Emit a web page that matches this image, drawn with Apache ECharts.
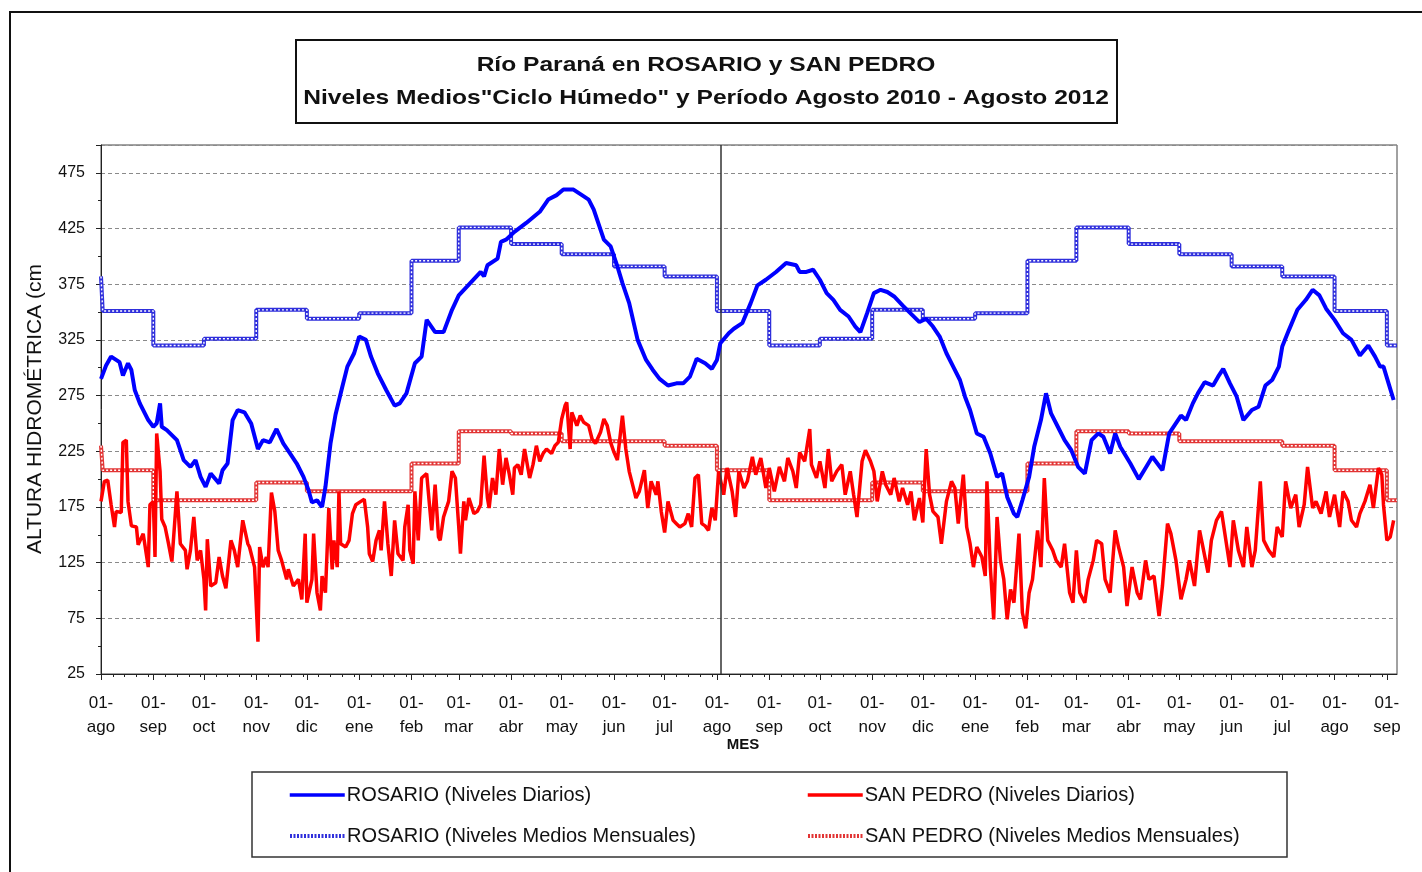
<!DOCTYPE html>
<html>
<head>
<meta charset="utf-8">
<script src="https://cdn.jsdelivr.net/npm/echarts@6/dist/echarts.min.js"></script>
<style>
html,body{margin:0;padding:0;background:#fff;}
#chart{width:1422px;height:872px;}
</style>
</head>
<body>
<div id="chart"></div>
<script>
// ---------- DATA ----------
// x values are days counted from 01-ago-2010
const monthLabels = ['ago','sep','oct','nov','dic','ene','feb','mar','abr','may','jun','jul',
                     'ago','sep','oct','nov','dic','ene','feb','mar','abr','may','jun','jul','ago','sep'];
const yTicks = [25, 75, 125, 175, 225, 275, 325, 375, 425, 475];

// Monthly mean levels ("Ciclo Húmedo"), months ago..jul
const rosarioMonthly  = [351, 320, 326, 352, 344, 349, 396, 426, 411, 402, 391, 382];
const sanPedroMonthly = [208, 181, 181, 197, 189, 189, 214, 243, 241, 234, 234, 230];

// Daily levels [day, cm]
const rosarioDaily = [[0,290],[3,302],[6,310],[11,305],[13,293],[16,304],[18,298],[20,280],[23,268],[28,253],[31,247],[33,250],[35,268],[36,247],[39,244],[45,235],[49,217],[53,211],[56,217],[59,202],[62,193],[65,205],[70,196],[72,208],[75,214],[78,253],[81,262],[85,260],[89,250],[93,227],[96,235],[100,233],[104,245],[108,232],[112,223],[116,214],[120,202],[123,190],[125,179],[128,181],[131,175],[133,193],[136,232],[139,258],[143,283],[146,301],[150,313],[153,328],[157,325],[160,310],[164,295],[169,280],[174,266],[177,268],[181,277],[186,304],[190,310],[193,343],[198,332],[203,332],[208,352],[212,365],[217,373],[225,386],[227,382],[229,392],[235,398],[237,413],[240,415],[245,422],[252,430],[260,440],[265,451],[270,455],[274,460],[280,460],[285,455],[289,451],[292,442],[296,424],[298,415],[302,409],[306,391],[309,376],[313,358],[318,325],[323,307],[327,298],[331,290],[336,284],[341,286],[345,286],[349,292],[353,308],[358,304],[362,299],[365,307],[367,322],[372,331],[375,335],[380,340],[385,358],[389,374],[394,379],[400,386],[406,394],[412,392],[414,386],[418,386],[422,388],[426,379],[430,367],[434,361],[438,352],[443,346],[447,337],[450,332],[454,349],[458,367],[462,370],[466,368],[470,364],[475,356],[479,350],[485,341],[489,344],[493,337],[497,328],[501,313],[505,301],[509,289],[512,274],[515,262],[519,241],[523,238],[527,223],[531,202],[534,205],[537,184],[541,169],[543,166],[546,181],[550,202],[553,229],[557,253],[560,277],[563,259],[567,247],[571,235],[575,226],[579,211],[583,205],[587,235],[591,241],[594,238],[598,223],[601,241],[604,229],[610,214],[615,200],[619,210],[623,220],[629,208],[633,241],[640,257],[643,253],[647,268],[650,277],[654,287],[659,284],[662,292],[665,299],[669,286],[673,274],[677,253],[682,262],[686,265],[690,284],[694,289],[698,301],[700,319],[704,334],[709,352],[714,361],[718,370],[722,365],[726,353],[731,343],[736,331],[741,325],[746,311],[751,320],[755,310],[758,301],[760,301],[763,286],[766,271]];

const sanPedroDaily = [[0,180],[2,198],[4,199],[6,177],[8,157],[9,171],[12,170],[13,233],[15,235],[16,180],[18,158],[21,157],[22,141],[25,151],[26,141],[28,121],[29,177],[31,180],[32,130],[33,241],[35,207],[36,164],[38,157],[40,142],[42,126],[45,189],[46,166],[47,142],[50,136],[51,119],[53,136],[55,166],[57,127],[59,136],[61,110],[62,82],[63,146],[65,104],[68,107],[70,130],[72,113],[74,102],[77,145],[79,136],[81,121],[84,163],[87,142],[88,139],[91,121],[93,54],[94,139],[96,121],[98,130],[99,121],[101,188],[103,171],[105,136],[107,127],[110,110],[111,119],[114,104],[117,110],[119,92],[121,151],[122,89],[125,110],[126,151],[128,98],[130,82],[131,113],[133,98],[135,174],[137,119],[138,145],[140,121],[141,189],[142,142],[145,139],[147,145],[149,169],[151,177],[154,180],[156,182],[158,157],[159,133],[161,126],[163,145],[165,154],[166,136],[168,180],[170,142],[172,113],[174,163],[176,133],[179,127],[180,157],[182,177],[183,136],[185,124],[186,189],[188,145],[190,201],[193,205],[194,204],[196,154],[198,195],[200,148],[201,145],[203,166],[206,180],[208,207],[210,201],[212,157],[213,133],[215,180],[216,163],[218,183],[221,169],[223,171],[225,177],[227,221],[229,183],[230,174],[232,201],[234,186],[236,227],[238,195],[240,219],[242,204],[244,186],[245,210],[247,213],[249,204],[251,227],[254,201],[256,213],[258,230],[260,216],[262,223],[264,227],[267,223],[269,230],[271,233],[273,254],[275,266],[276,269],[278,227],[279,260],[282,248],[284,257],[286,251],[289,248],[291,236],[293,232],[296,242],[298,254],[300,248],[302,233],[304,224],[306,217],[309,257],[311,227],[313,207],[315,195],[317,183],[319,189],[322,208],[324,174],[326,198],[329,186],[330,198],[332,171],[334,152],[336,180],[339,163],[341,160],[343,157],[346,160],[348,169],[350,157],[352,201],[354,204],[356,160],[358,158],[360,154],[362,174],[364,163],
[366,207],[369,186],[371,210],[374,189],[376,166],[378,207],[381,192],[383,198],[386,220],[388,204],[391,219],[394,192],[396,210],[399,189],[402,211],[405,198],[407,219],[410,207],[412,192],[414,224],[417,216],[420,245],[421,213],[424,201],[426,216],[429,192],[431,227],[433,198],[436,207],[439,213],[441,186],[444,207],[446,186],[448,166],[451,216],[453,226],[456,216],[458,207],[460,180],[463,207],[465,195],[468,186],[470,201],[473,180],[475,192],[478,177],[480,189],[482,163],[485,183],[487,161],[489,227],[491,186],[493,171],[496,166],[498,142],[501,180],[504,198],[506,192],[508,160],[511,204],[513,157],[515,142],[517,121],[519,139],[522,130],[524,113],[525,198],[527,121],[529,74],[531,166],[533,127],[535,110],[537,74],[539,101],[541,89],[544,151],[546,80],[548,66],[550,98],[552,110],[555,154],[557,121],[559,201],[561,145],[564,136],[566,127],[569,121],[571,142],[574,98],[576,89],[578,136],[580,98],[583,89],[585,110],[588,127],[590,145],[593,142],[595,110],[598,98],[601,154],[603,139],[606,121],[608,86],[611,121],[614,98],[616,92],[619,127],[621,110],[624,113],[627,77],[629,104],[632,160],[634,151],[637,127],[640,92],[643,110],[645,127],[648,104],[651,154],[653,139],[656,116],[658,145],[661,163],[664,171],[666,151],[669,121],[671,163],[674,136],[677,121],[679,157],[682,121],[684,136],[687,198],[689,145],[692,136],[695,130],[697,157],[700,148],[702,198],[705,174],[708,186],[710,157],[713,177],[715,211],[718,174],[720,180],[723,169],[726,189],[728,166],[731,186],[734,157],[736,189],[739,180],[741,163],[744,157],[746,169],[749,180],[752,195],[754,174],[757,210],[759,204],[760,177],[762,145],[764,148],[766,163]];

// ---------- AXIS STRUCTURE ----------
const DAY = 86400000;
const t0 = Date.UTC(2010, 7, 1);
const monthStarts = monthLabels.map((_, k) => Math.round((Date.UTC(2010, 7 + k, 1) - t0) / DAY));
const xMax = 768;
const minorTicks = [];
monthStarts.forEach((s, i) => {
  const next = i + 1 < monthStarts.length ? monthStarts[i + 1] : xMax;
  [7, 14, 21, 28].forEach(o => { if (s + o < next - 1 && s + o <= xMax) minorTicks.push(s + o); });
});

function buildSteps(means) {
  const pts = [[0, means[11]]];
  monthStarts.forEach((s, i) => pts.push([i === 0 ? 1 : s, means[i % 12]]));
  pts.push([xMax, means[(monthStarts.length - 1) % 12]]);
  return pts;
}
const rosSteps = buildSteps(rosarioMonthly);
const spSteps = buildSteps(sanPedroMonthly);

const FONT = '"Liberation Sans", Arial, sans-serif';
const N_RD = 'ROSARIO (Niveles Diarios)';
const N_RM = 'ROSARIO (Niveles Medios Mensuales)';
const N_SD = 'SAN PEDRO (Niveles Diarios)';
const N_SM = 'SAN PEDRO (Niveles Medios Mensuales)';
const C_RD = '#0000ff', C_RM = '#2f2fdc', C_SD = '#ff0000', C_SM = '#e23434';

const chart = echarts.init(document.getElementById('chart'), null, {renderer: 'canvas'});

function legendAt(name, left, top, dotted) {
  return {
    show: true, left: left, top: top, orient: 'horizontal', padding: 0,
    itemWidth: 55, itemHeight: 14, itemGap: 5, selectedMode: false,
    itemStyle: {opacity: 0},
    lineStyle: dotted ? {type: [2, 1.5], width: 4} : {width: 3.5},
    data: [{name: name}],
    textStyle: {fontFamily: FONT, fontSize: 20, color: '#111', padding: [0, 0, 0, -3]}
  };
}

const option = {
  animation: false,
  backgroundColor: '#fff',
  grid: {left: 101, top: 145, width: 1296, height: 529, show: true, borderColor: '#444', borderWidth: 1, backgroundColor: 'transparent'},
  legend: [
    legendAt(N_RD, 288, 785, false),
    legendAt(N_RM, 288, 826, true),
    legendAt(N_SD, 806, 785, false),
    legendAt(N_SM, 806, 826, true)
  ],
  xAxis: [{
    type: 'value', min: 0, max: xMax,
    axisLine: {show: true, onZero: false, lineStyle: {color: '#222', width: 1}},
    axisTick: {show: true, length: 6, customValues: monthStarts, lineStyle: {color: '#222'}},
    axisLabel: {
      customValues: monthStarts, margin: 17, fontFamily: FONT, fontSize: 17, color: '#111', lineHeight: 24,
      formatter: v => { const i = monthStarts.indexOf(v); return i >= 0 ? '01-\n' + monthLabels[i] : ''; }
    },
    splitLine: {show: false}
  }, {
    type: 'value', min: 0, max: xMax, position: 'bottom',
    axisLine: {show: false},
    axisTick: {show: true, length: 3, customValues: minorTicks, lineStyle: {color: '#222'}},
    axisLabel: {show: false},
    splitLine: {show: false}
  }],
  yAxis: {
    type: 'value', min: 25, max: 500, interval: 50,
    axisLine: {show: true, lineStyle: {color: '#222', width: 1}},
    axisTick: {show: true, length: 5, lineStyle: {color: '#222'}},
    minorTick: {show: true, splitNumber: 2, length: 3, lineStyle: {color: '#222'}},
    axisLabel: {fontFamily: FONT, fontSize: 16, color: '#111', margin: 16, showMaxLabel: false,
      formatter: v => (yTicks.indexOf(v) >= 0 ? String(v) : '')},
    splitLine: {show: true, lineStyle: {color: '#8a8a8a', type: [4, 3], width: 1}}
  },
  graphic: [
    {type: 'rect', shape: {x: 10, y: 12, width: 1440, height: 900}, style: {fill: 'none', stroke: '#111', lineWidth: 2}, silent: true, z: 0},
    {type: 'rect', shape: {x: 296, y: 40, width: 821, height: 83}, style: {fill: '#fff', stroke: '#111', lineWidth: 2}, z: 1},
    {type: 'text', x: 706, y: 65, scaleX: 1.17, style: {text: 'Río Paraná en ROSARIO y SAN PEDRO', fontFamily: FONT, fontSize: 21, fontWeight: 'bold', fill: '#111', textAlign: 'center', textVerticalAlign: 'middle'}, z: 2},
    {type: 'text', x: 706, y: 98, scaleX: 1.17, style: {text: 'Niveles Medios"Ciclo Húmedo" y Período Agosto 2010 - Agosto 2012', fontFamily: FONT, fontSize: 21, fontWeight: 'bold', fill: '#111', textAlign: 'center', textVerticalAlign: 'middle'}, z: 2},
    {type: 'text', x: 35, y: 409, rotation: Math.PI / 2, style: {text: 'ALTURA HIDROMÉTRICA (cm', fontFamily: FONT, fontSize: 21, fill: '#111', textAlign: 'center', textVerticalAlign: 'middle'}, z: 2},
    {type: 'text', x: 743, y: 745, style: {text: 'MES', fontFamily: FONT, fontSize: 15, fontWeight: 'bold', fill: '#111', textAlign: 'center', textVerticalAlign: 'middle'}, z: 2},
    {type: 'rect', shape: {x: 252, y: 772, width: 1035, height: 85}, style: {fill: 'none', stroke: '#333', lineWidth: 1.5}, z: 1}
  ],
  series: [
    {name: N_RM, type: 'line', step: 'end', data: rosSteps, symbol: 'none', z: 2,
      lineStyle: {color: C_RM, width: 4}, itemStyle: {color: C_RM}},
    {name: 'rm_dots', type: 'line', step: 'end', data: rosSteps, symbol: 'none', z: 3, silent: true,
      lineStyle: {color: '#ffffff', width: 1.4, type: [2, 2]}},
    {name: N_SM, type: 'line', step: 'end', data: spSteps, symbol: 'none', z: 2,
      lineStyle: {color: C_SM, width: 4}, itemStyle: {color: C_SM}},
    {name: 'sm_dots', type: 'line', step: 'end', data: spSteps, symbol: 'none', z: 3, silent: true,
      lineStyle: {color: '#ffffff', width: 1.4, type: [2, 2]}},
    {name: N_SD, type: 'line', data: sanPedroDaily, symbol: 'none', z: 4,
      lineStyle: {color: C_SD, width: 3.5}, itemStyle: {color: C_SD}},
    {name: N_RD, type: 'line', data: rosarioDaily, symbol: 'none', z: 5,
      lineStyle: {color: C_RD, width: 4}, itemStyle: {color: C_RD},
      markLine: {silent: true, symbol: 'none', label: {show: false},
        lineStyle: {color: '#333', width: 1.5, type: 'solid'}, data: [{xAxis: 367.5}]}}
  ]
};
chart.setOption(option);
</script>
</body>
</html>
